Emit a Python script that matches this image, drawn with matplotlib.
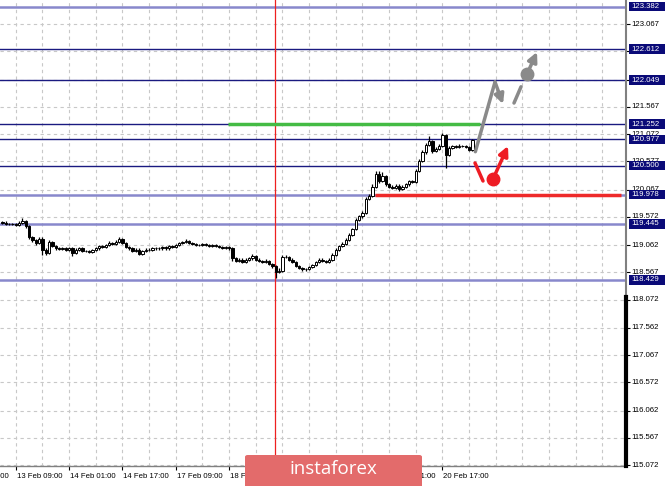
import matplotlib
matplotlib.use("Agg")
import matplotlib.pyplot as plt
import matplotlib.transforms as mtransforms
from matplotlib.patches import FancyArrowPatch, Rectangle, FancyBboxPatch

# ---------------- data ----------------
bar_index = list(range(-4, 138))
opens = [119.48, 119.47, 119.45, 119.44, 119.45, 119.43, 119.46, 119.50, 119.40, 119.20,
         119.15, 119.10, 119.18, 118.98, 118.92, 119.12, 119.05, 119.00, 118.99, 119.00,
         118.98, 119.00, 118.92, 118.98, 119.00, 118.96, 118.95, 118.94, 118.97, 119.00,
         119.05, 119.02, 119.06, 119.10, 119.08, 119.12, 119.17, 119.10, 119.02, 119.00,
         118.96, 118.98, 118.90, 118.95, 118.98, 118.97, 119.01, 119.00, 119.00, 119.02,
         119.00, 119.04, 119.03, 119.06, 119.10, 119.12, 119.14, 119.10, 119.08, 119.07,
         119.06, 119.08, 119.06, 119.05, 119.06, 119.04, 119.03, 119.01, 119.02, 119.00,
         118.82, 118.78, 118.80, 118.76, 118.80, 118.82, 118.86, 118.80, 118.78, 118.76,
         118.78, 118.72, 118.68, 118.58, 118.60, 118.85, 118.84, 118.80, 118.76, 118.68,
         118.65, 118.62, 118.63, 118.66, 118.70, 118.75, 118.80, 118.78, 118.76, 118.80,
         118.88, 118.98, 119.04, 119.08, 119.16, 119.25, 119.35, 119.52, 119.58, 119.65,
         119.90, 119.95, 120.12, 120.35, 120.22, 120.32, 120.16, 120.12, 120.10, 120.14,
         120.08, 120.12, 120.16, 120.22, 120.20, 120.40, 120.58, 120.74, 120.88, 120.95,
         120.76, 120.80, 120.86, 121.05, 120.70, 120.82, 120.85, 120.84, 120.86, 120.85,
         120.84, 120.78]
closes = [119.47, 119.45, 119.44, 119.45, 119.43, 119.46, 119.50, 119.40, 119.20, 119.15,
          119.10, 119.18, 118.98, 118.92, 119.12, 119.05, 119.00, 118.99, 119.00, 118.98,
          119.00, 118.92, 118.98, 119.00, 118.96, 118.95, 118.94, 118.97, 119.00, 119.05,
          119.02, 119.06, 119.10, 119.08, 119.12, 119.17, 119.10, 119.02, 119.00, 118.96,
          118.98, 118.90, 118.95, 118.98, 118.97, 119.01, 119.00, 119.00, 119.02, 119.00,
          119.04, 119.03, 119.06, 119.10, 119.12, 119.14, 119.10, 119.08, 119.07, 119.06,
          119.08, 119.06, 119.05, 119.06, 119.04, 119.03, 119.01, 119.02, 119.00, 118.82,
          118.78, 118.80, 118.76, 118.80, 118.82, 118.86, 118.80, 118.78, 118.76, 118.78,
          118.72, 118.68, 118.58, 118.60, 118.85, 118.84, 118.80, 118.76, 118.68, 118.65,
          118.62, 118.63, 118.66, 118.70, 118.75, 118.80, 118.78, 118.76, 118.80, 118.88,
          118.98, 119.04, 119.08, 119.16, 119.25, 119.35, 119.52, 119.58, 119.65, 119.90,
          119.95, 120.12, 120.35, 120.22, 120.32, 120.16, 120.12, 120.10, 120.14, 120.08,
          120.12, 120.16, 120.22, 120.20, 120.40, 120.58, 120.74, 120.88, 120.95, 120.76,
          120.80, 120.86, 121.05, 120.70, 120.82, 120.85, 120.84, 120.86, 120.85, 120.84,
          120.78, 120.96]
highs = [119.50, 119.49, 119.47, 119.47, 119.47, 119.49, 119.55, 119.52, 119.42, 119.23,
         119.17, 119.21, 119.20, 119.00, 119.15, 119.14, 119.07, 119.02, 119.02, 119.02,
         119.03, 119.02, 119.00, 119.03, 119.02, 118.98, 118.97, 118.99, 119.02, 119.07,
         119.07, 119.08, 119.13, 119.12, 119.15, 119.20, 119.19, 119.12, 119.04, 119.02,
         119.00, 119.00, 118.97, 119.00, 119.00, 119.03, 119.03, 119.02, 119.04, 119.04,
         119.06, 119.06, 119.08, 119.12, 119.14, 119.17, 119.16, 119.12, 119.10, 119.09,
         119.10, 119.10, 119.08, 119.08, 119.08, 119.06, 119.05, 119.04, 119.04, 119.02,
         118.84, 118.82, 118.82, 118.82, 118.85, 118.90, 118.88, 118.82, 118.80, 118.81,
         118.80, 118.74, 118.70, 118.64, 118.88, 118.88, 118.86, 118.82, 118.78, 118.70,
         118.67, 118.65, 118.68, 118.72, 118.78, 118.83, 118.82, 118.80, 118.82, 118.91,
         119.01, 119.07, 119.11, 119.19, 119.28, 119.38, 119.55, 119.61, 119.68, 119.93,
         119.98, 120.16, 120.40, 120.40, 120.38, 120.34, 120.18, 120.15, 120.17, 120.16,
         120.15, 120.19, 120.25, 120.25, 120.44, 120.62, 120.78, 120.92, 121.04, 120.97,
         120.84, 120.90, 121.10, 121.07, 120.85, 120.88, 120.87, 120.89, 120.88, 120.87,
         120.86, 120.98]
lows = [119.45, 119.43, 119.42, 119.42, 119.41, 119.41, 119.44, 119.38, 119.17, 119.12,
        119.07, 119.08, 118.88, 118.89, 118.90, 119.03, 118.98, 118.97, 118.97, 118.96,
        118.96, 118.86, 118.90, 118.96, 118.94, 118.93, 118.92, 118.92, 118.95, 118.98,
        119.00, 119.00, 119.04, 119.06, 119.06, 119.10, 119.08, 119.00, 118.97, 118.94,
        118.94, 118.88, 118.88, 118.93, 118.95, 118.95, 118.98, 118.98, 118.98, 118.98,
        118.98, 119.01, 119.01, 119.04, 119.08, 119.10, 119.08, 119.06, 119.05, 119.04,
        119.04, 119.04, 119.03, 119.03, 119.02, 119.01, 118.99, 118.99, 118.97, 118.78,
        118.75, 118.76, 118.74, 118.74, 118.78, 118.80, 118.78, 118.76, 118.74, 118.74,
        118.70, 118.65, 118.46, 118.55, 118.58, 118.82, 118.78, 118.74, 118.66, 118.63,
        118.60, 118.60, 118.61, 118.64, 118.68, 118.73, 118.76, 118.74, 118.74, 118.78,
        118.86, 118.96, 119.02, 119.06, 119.14, 119.23, 119.33, 119.50, 119.56, 119.63,
        119.88, 119.93, 120.10, 120.18, 120.20, 120.13, 120.09, 120.07, 120.08, 120.05,
        120.06, 120.10, 120.14, 120.18, 120.18, 120.38, 120.56, 120.72, 120.85, 120.73,
        120.74, 120.78, 120.84, 120.46, 120.68, 120.80, 120.82, 120.82, 120.83, 120.82,
        120.76, 120.76]

# horizontal levels
navy_levels = [122.612, 122.049, 121.252, 120.977, 120.500]
lavender_levels = [123.382, 119.978, 119.445, 118.429]
boxed_levels = [123.382, 122.612, 122.049, 121.252, 120.977, 120.500, 119.978, 119.445, 118.429]
green_level = 121.252
green_span = (63.7, 139.3)
red_level = 119.978
red_span = (107.8, 181.6)
vline_index = 77.8

# price scale labels
price_ticks = [115.072, 115.567, 116.062, 116.572, 117.067, 117.562, 118.072, 118.567,
               119.062, 119.572, 120.067, 120.577, 121.072, 121.567, 122.062, 122.572, 123.067]
# time labels
time_tick_index = [-16, 0, 16, 32, 48, 64, 80, 96, 112, 128]
time_tick_labels = ["12 Feb 17:00", "13 Feb 09:00", "14 Feb 01:00", "14 Feb 17:00",
                    "17 Feb 09:00", "18 Feb 01:00", "18 Feb 17:00", "19 Feb 09:00",
                    "20 Feb 01:00", "20 Feb 17:00"]

# forecast arrows (bar index, price)
grey_path = [(137.9, 120.754), (143.8, 122.017)]
grey_arrow = [(143.8, 122.017), (146.2, 121.618)]
grey_dash = [(149.5, 121.636), (151.6, 121.93)]
grey_dot = (153.4, 122.162)
grey_arrow2 = [(153.4, 122.162), (156.4, 122.561)]
red_stroke = [(137.8, 120.549), (140.2, 120.223)]
red_dot = (143.2, 120.259)
red_arrow = [(143.2, 120.259), (147.7, 120.857)]

# ---------------- figure ----------------
W, H = 665, 486
fig = plt.figure(figsize=(W / 100, H / 100), dpi=100)
ax_w, ax_h = 626, 466
ax = fig.add_axes([0, (H - ax_h) / H, ax_w / W, ax_h / H])
ax.set_facecolor("white")

# spines / ticks
for s in ["top", "left"]:
    ax.spines[s].set_visible(False)
ax.spines["right"].set_color("#808080")
ax.spines["right"].set_linewidth(1.5)
ax.spines["bottom"].set_color("#808080")
ax.spines["bottom"].set_linewidth(1.0)
ax.set_xticks(time_tick_index)
ax.set_xticklabels([])
ax.tick_params(axis="x", length=3, width=0.8, color="black", direction="out")
ax.yaxis.tick_right()
ax.set_yticks(price_ticks)
ax.set_yticklabels([])
ax.tick_params(axis="y", length=3, width=0.8, color="black", direction="out")
ax.plot([1.0, 1.0], [0, (466 - 297) / 466], transform=ax.transAxes, color="black",
        lw=3, clip_on=False, zorder=5)

# grid
grid_kw = dict(color="#c8c8c8", lw=0.8, ls=(0, (3, 3)), zorder=0)
for gx in range(-16, 184, 8):
    ax.axvline(gx, **grid_kw)
for p in price_ticks:
    ax.axhline(p, **grid_kw)

# levels
for lv in navy_levels:
    ax.axhline(lv, color="#1a1a80", lw=1.0, zorder=2)
for lv in lavender_levels:
    ax.axhline(lv, color="#8888cc", lw=1.8, zorder=2)
ax.plot(green_span, [green_level, green_level], color="#44bb44", lw=2.5, zorder=3,
        solid_capstyle="butt")
ax.plot(red_span, [red_level, red_level], color="#ee2a2a", lw=2.5, zorder=3,
        solid_capstyle="butt")
ax.axvline(vline_index, color="#ee2020", lw=0.9, zorder=2)

# candles
for i, o, h, l, c in zip(bar_index, opens, highs, lows, closes):
    ax.vlines(i, l, h, color="black", lw=0.9, zorder=4)
    up = c >= o
    ax.bar(i, c - o if abs(c - o) > 0.004 else 0.004, bottom=o, width=0.7,
           color="white" if up else "black", edgecolor="black", lw=0.7, zorder=5)

# forecast arrows
grey = "#8a8a8a"
ax.plot(*zip(*grey_path), color=grey, lw=2.5, zorder=6, solid_capstyle="round")
ax.add_patch(FancyArrowPatch(grey_arrow[0], grey_arrow[1], arrowstyle="-|>",
                             mutation_scale=14, color=grey, lw=2.5, zorder=6,
                             shrinkA=0, shrinkB=0))
ax.plot(*zip(*grey_dash), color=grey, lw=2.5, zorder=6, solid_capstyle="round")
ax.plot(*grey_dot, "o", color=grey, ms=9, zorder=6)
ax.add_patch(FancyArrowPatch(grey_arrow2[0], grey_arrow2[1], arrowstyle="-|>",
                             mutation_scale=14, color=grey, lw=2.5, zorder=6,
                             shrinkA=0, shrinkB=0))
red = "#ee1c24"
ax.plot(*zip(*red_stroke), color=red, lw=2.5, zorder=6, solid_capstyle="round")
ax.plot(*red_dot, "o", color=red, ms=9, zorder=6)
ax.add_patch(FancyArrowPatch(red_arrow[0], red_arrow[1], arrowstyle="-|>",
                             mutation_scale=14, color=red, lw=2.5, zorder=6,
                             shrinkA=0, shrinkB=0))
ax.set_xlim(-4.71, 183.1)
ax.set_ylim(115.058, 123.503)

# price labels
font = "Liberation Sans"
fs = 5.6
ytrans = mtransforms.blended_transform_factory(fig.transFigure, ax.transData)
for p in price_ticks:
    fig.text(631.5 / W, p, f"{p:.3f}", transform=ytrans, ha="left", va="center",
             fontsize=fs, family=font, color="black", zorder=10)
box_h = 9.5 / 55.18
for lv in boxed_levels:
    fig.add_artist(Rectangle((629 / W, lv - box_h / 2), (W - 629) / W, box_h,
                             transform=ytrans, facecolor="#0a0a78", edgecolor="none",
                             zorder=11))
    fig.text(631.5 / W, lv, f"{lv:.3f}", transform=ytrans, ha="left", va="center",
             fontsize=fs, family=font, color="white", zorder=12)

# time labels
xtrans = mtransforms.blended_transform_factory(ax.transData, fig.transFigure)
for idx, lab in zip(time_tick_index, time_tick_labels):
    fig.text(idx + 0.3, (H - 476) / H, lab, transform=xtrans, ha="left", va="center",
             fontsize=fs, family=font, color="black", zorder=10)

# watermark logo
fig.add_artist(FancyBboxPatch((245 / W, -0.02), 177 / W, (486 - 455) / H + 0.02,
                              boxstyle="round,pad=0,rounding_size=0.004",
                              transform=fig.transFigure, facecolor="#e36b6b",
                              edgecolor="none", zorder=20))
fig.text(333 / W, (486 - 469) / H, "instaforex", ha="center", va="center",
         fontsize=13.5, family="Open Sans", color="white", zorder=21)

fig.savefig("out.png", dpi=100)
